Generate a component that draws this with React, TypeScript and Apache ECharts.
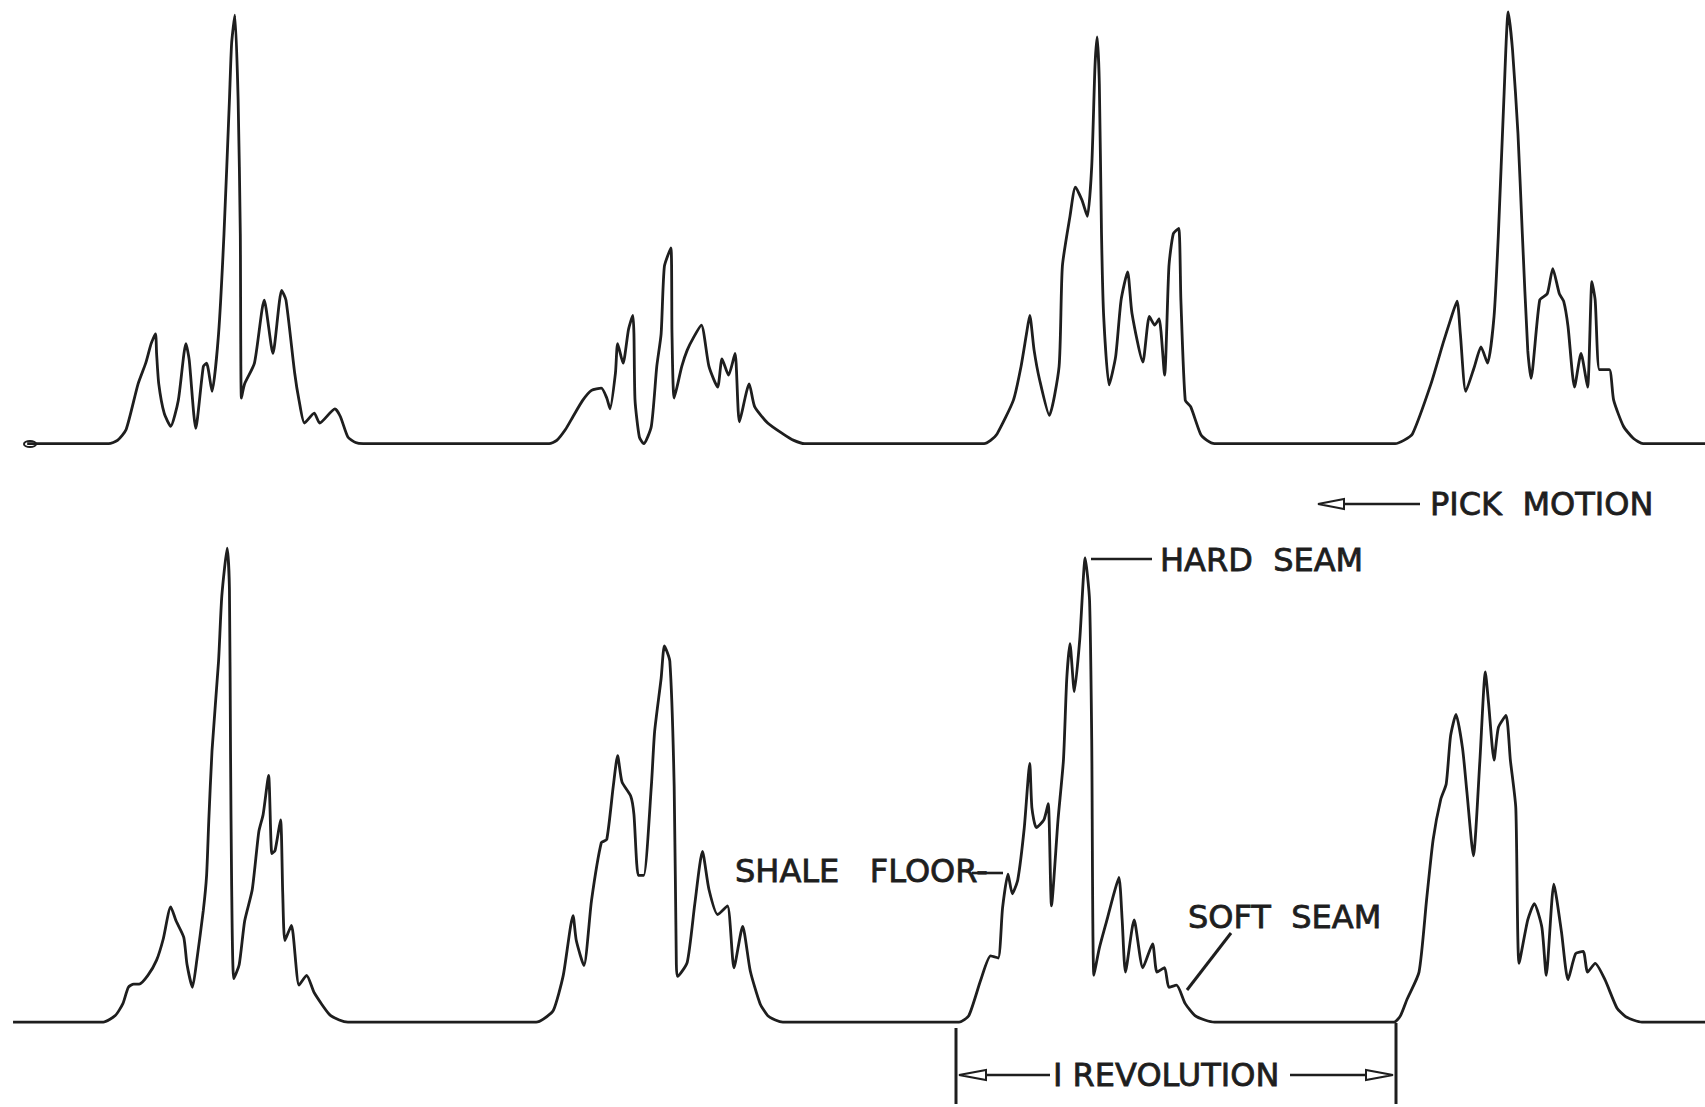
import React, { useEffect, useRef } from "react";
import * as echarts from "echarts";

// Pick force traces: [position along cut, force amplitude above the zero line]
const upperTrace: [number, number][] = [
  [25, 0], [100, 0], [108, 3], [116, 13], [127, 55], [134, 74], [139, 92], [143, 101], [144, 83], [146, 55],
  [151, 28], [157, 16], [164, 40], [171, 92], [174, 77], [180, 14], [187, 71], [190, 74], [195, 48], [201, 101],
  [206, 193], [211, 316], [213, 368], [216, 394], [219, 316], [221, 193], [222, 42], [225, 55], [234, 74], [243, 132],
  [251, 83], [259, 141], [263, 132], [271, 65], [275, 40], [280, 19], [289, 28], [294, 19], [308, 32], [313, 25],
  [320, 6], [327, 1], [334, 0],
  [505, 0], [512, 3], [520, 13], [527, 25], [536, 40], [544, 49], [553, 51], [558, 42], [561, 32], [566, 65],
  [568, 92], [573, 74], [578, 105], [582, 118], [583, 101], [584, 40], [588, 6], [592, 0], [599, 16], [604, 71],
  [608, 101], [611, 163], [617, 180], [618, 101], [620, 42], [627, 71], [632, 86], [638, 98], [645, 109], [652, 71],
  [660, 52], [664, 78], [670, 63], [676, 83], [680, 20], [689, 55], [694, 34], [706, 19], [720, 9], [730, 3], [740, 0],
  [905, 0], [911, 3], [917, 9], [932, 40], [939, 71], [944, 101], [947, 118], [951, 86], [956, 59], [965, 26],
  [974, 71], [977, 163], [984, 209], [989, 236], [995, 224], [1000, 209], [1004, 255], [1007, 347], [1009, 374], [1011, 331],
  [1013, 193], [1015, 117], [1020, 54], [1026, 80], [1031, 132], [1037, 158], [1041, 120], [1051, 75], [1057, 117], [1062, 109],
  [1066, 115], [1071, 63], [1075, 163], [1079, 193], [1084, 198], [1086, 132], [1090, 40], [1095, 34], [1104, 9], [1110, 3], [1117, 0],
  [1283, 0], [1291, 3], [1299, 9], [1316, 55], [1327, 92], [1334, 114], [1340, 131], [1343, 101], [1348, 48], [1356, 71],
  [1362, 89], [1368, 74], [1374, 117], [1378, 193], [1383, 316], [1387, 397], [1391, 362], [1396, 285], [1400, 193], [1405, 86],
  [1408, 60], [1416, 132], [1423, 138], [1428, 161], [1434, 138], [1438, 131], [1442, 108], [1448, 52], [1454, 83], [1460, 52],
  [1464, 149], [1467, 132], [1471, 68], [1480, 68], [1484, 40], [1493, 16], [1502, 5], [1511, 0], [1568, 0],
];

const lowerTrace: [number, number][] = [
  [12, 0], [95, 0], [106, 6], [113, 17], [118, 32], [123, 35], [128, 35], [136, 43], [144, 57], [150, 76],
  [157, 106], [162, 93], [169, 78], [172, 53], [177, 32], [181, 57], [187, 103], [190, 135], [192, 185], [195, 250],
  [201, 332], [204, 392], [209, 436], [211, 398], [212, 250], [213, 129], [215, 40], [220, 53], [225, 93], [232, 122],
  [238, 175], [242, 191], [247, 227], [250, 155], [253, 158], [258, 186], [260, 119], [262, 75], [268, 89], [275, 34],
  [282, 43], [289, 27], [303, 7], [312, 2], [320, 0],
  [493, 0], [500, 3], [509, 11], [518, 43], [527, 98], [530, 75], [537, 52], [544, 112], [553, 165], [558, 168],
  [564, 217], [568, 245], [572, 221], [580, 208], [583, 191], [587, 135], [592, 135], [599, 217], [602, 267], [608, 316],
  [611, 346], [616, 332], [620, 217], [622, 53], [623, 42], [632, 55], [639, 109], [646, 157], [652, 122], [660, 99],
  [669, 107], [675, 50], [683, 88], [690, 47], [699, 17], [706, 6], [713, 2], [720, 0],
  [882, 0], [891, 6], [902, 39], [911, 61], [918, 59], [922, 105], [927, 136], [931, 118], [936, 131], [942, 179],
  [947, 238], [949, 197], [953, 179], [960, 186], [964, 201], [967, 107], [973, 186], [978, 241], [981, 315], [984, 348],
  [988, 304], [993, 352], [998, 427], [1002, 388], [1004, 260], [1006, 43], [1011, 68], [1018, 94], [1023, 113], [1029, 133],
  [1032, 94], [1035, 46], [1043, 94], [1051, 50], [1060, 72], [1064, 46], [1071, 50], [1075, 32], [1082, 34], [1090, 17],
  [1099, 6], [1108, 2], [1117, 0],
  [1282, 0], [1288, 6], [1294, 21], [1305, 46], [1312, 113], [1318, 168], [1325, 205], [1330, 219], [1334, 263], [1339, 283],
  [1345, 252], [1349, 212], [1355, 153], [1361, 241], [1366, 322], [1369, 293], [1374, 241], [1378, 271], [1385, 282], [1389, 241],
  [1394, 197], [1397, 54], [1405, 94], [1411, 109], [1418, 87], [1422, 43], [1429, 127], [1436, 83], [1442, 39], [1449, 63],
  [1456, 65], [1460, 46], [1467, 54], [1476, 39], [1487, 13], [1495, 5], [1502, 2], [1510, 0], [1568, 0],
];

const xRange = [0, 1568];
const upperMax = 408;
const lowerMax = 940;

const labelPick = "PICK  MOTION";
const labelHard = "HARD  SEAM";
const labelShale = "SHALE   FLOOR-";
const labelSoft = "SOFT  SEAM";
const labelRev = "I REVOLUTION";

const W = 1705;
const H = 1107;
const S = W / 1568;
const INK = "#1e1e1e";
const FONT = "32px 'DejaVu Sans', sans-serif";

function txt(text: string, x: number, y: number) {
  return {
    type: "text",
    x,
    y,
    style: {
      text,
      font: FONT,
      fill: INK,
      stroke: INK,
      lineWidth: 0.8,
      textAlign: "left",
      textVerticalAlign: "middle",
      verticalAlign: "middle",
    },
  };
}

function seg(x1: number, y1: number, x2: number, y2: number, w = 2.6) {
  return {
    type: "line",
    shape: { x1, y1, x2, y2 },
    style: { stroke: INK, lineWidth: w },
  };
}

function head(points: number[][]) {
  return {
    type: "polygon",
    shape: { points },
    style: { stroke: INK, fill: "#ffffff", lineWidth: 2 },
  };
}

export default function App() {
  const ref = useRef<HTMLDivElement>(null);
  useEffect(() => {
    if (!ref.current) return;
    const chart = echarts.init(ref.current, undefined, { renderer: "svg" });
    const lineStyle = { color: INK, width: 2.8 };
    chart.setOption({
      animation: false,
      backgroundColor: "#ffffff",
      grid: [
        { left: 0, top: 0, width: W, height: upperMax * S },
        { left: 0, top: 0, width: W, height: lowerMax * S },
      ],
      xAxis: [
        { type: "value", gridIndex: 0, min: xRange[0], max: xRange[1], show: false },
        { type: "value", gridIndex: 1, min: xRange[0], max: xRange[1], show: false },
      ],
      yAxis: [
        { type: "value", gridIndex: 0, min: 0, max: upperMax, show: false },
        { type: "value", gridIndex: 1, min: 0, max: lowerMax, show: false },
      ],
      series: [
        {
          type: "line",
          xAxisIndex: 0,
          yAxisIndex: 0,
          data: upperTrace,
          showSymbol: false,
          smooth: 0.2,
          clip: false,
          lineStyle,
        },
        {
          type: "line",
          xAxisIndex: 1,
          yAxisIndex: 1,
          data: lowerTrace,
          showSymbol: false,
          smooth: 0.2,
          clip: false,
          lineStyle,
        },
      ],
      graphic: [
        // start marker on upper trace
        { type: "ellipse", shape: { cx: 30, cy: 444, rx: 6, ry: 3 }, style: { stroke: INK, fill: "#ffffff", lineWidth: 2 } },
        // pick motion
        txt(labelPick, 1430, 504),
        seg(1324, 504, 1420, 504),
        head([[1318, 504], [1344, 499], [1344, 509]]),
        // hard seam
        seg(1091, 559, 1152, 559),
        txt(labelHard, 1160, 560),
        // shale floor (leader continues the hyphen to the trace)
        txt(labelShale, 735, 871),
        seg(972, 873, 1003, 873),
        // soft seam
        txt(labelSoft, 1188, 917),
        seg(1231, 933, 1187, 990, 3),
        // one revolution
        seg(956, 1028, 956, 1104, 3),
        seg(1396, 1023, 1396, 1104, 3),
        seg(982, 1075, 1050, 1075),
        head([[959, 1075], [986, 1070], [986, 1080]]),
        txt(labelRev, 1053, 1075),
        seg(1290, 1075, 1370, 1075),
        head([[1393, 1075], [1366, 1070], [1366, 1080]]),
      ],
    });
    return () => chart.dispose();
  }, []);
  return (
    <div
      ref={ref}
      style={{ position: "absolute", left: 0, top: 0, width: W, height: H, background: "#ffffff" }}
    />
  );
}
